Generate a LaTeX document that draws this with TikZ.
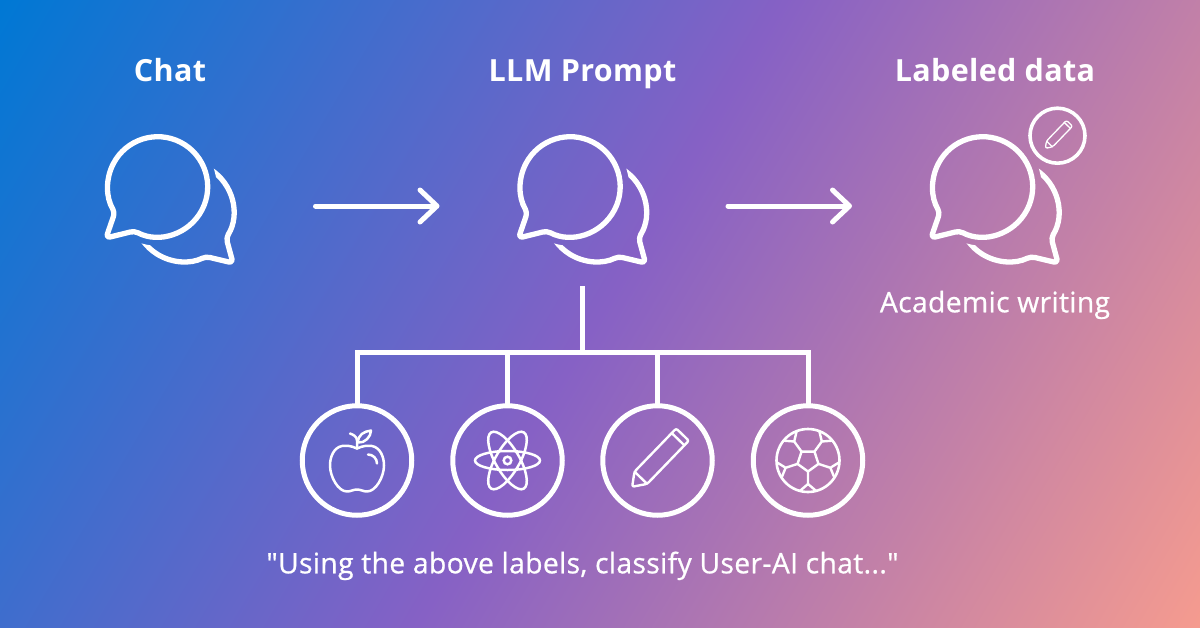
\documentclass[tikz,border=0pt]{standalone}
\usepackage{fontspec}
\setmainfont{Open Sans}[Ligatures=TeXOff]
\newfontfamily\headingfont{Open Sans}[Ligatures=TeXOff,LetterSpace=1.1]
\newfontfamily\captionfont{Open Sans}[Ligatures=TeXOff,LetterSpace=1.2,FakeBold=0.7]
\usetikzlibrary{arrows.meta}
\definecolor{bgblue}{HTML}{0078D4}
\definecolor{bgpurple}{HTML}{8661C5}
\definecolor{bgsalmon}{HTML}{F59B8F}
\pgfdeclarehorizontalshading{bgfade}{100bp}{color(0bp)=(bgblue); color(25bp)=(bgblue); color(50bp)=(bgpurple); color(75bp)=(bgsalmon); color(100bp)=(bgsalmon)}
\tikzset{
  heading/.style={text=white,anchor=base,font=\fontsize{30.5}{36}\headingfont\bfseries},
  caption/.style={text=white,anchor=base,font=\fontsize{28.3}{34}\captionfont},
  iconbox/.style={minimum width=130pt,minimum height=143pt,inner sep=0pt,outer sep=0pt},
  labelring/.style={circle,draw=white,line width=5pt,minimum size=109.5pt,inner sep=0pt,outer sep=0pt},
  badgering/.style={circle,draw=white,line width=3.6pt,minimum size=55pt,inner sep=0pt,outer sep=0pt},
  flow/.style={draw=white,line width=5pt,line cap=round,-{Straight Barb[length=17pt,width=32pt,round]}},
  tree/.style={draw=white,line width=5pt},
  pics/bubbles/.style={code={
    \begin{scope}[even odd rule]
      \clip (-200,-200) rectangle (200,200) (-12.3,-19.3) circle (59);
      \draw[white,line width=5.3pt,line join=round,rounded corners=4pt]
        (13.6,5.7)+(31.6:50) arc[start angle=31.6,end angle=-296.3,radius=50]
        -- (63,57) -- cycle;
    \end{scope}
    \draw[white,line width=5.3pt,line join=round,rounded corners=4pt]
      (-12.3,-19.3)+(117.7:50) arc[start angle=117.7,end angle=-211,radius=50]
      -- (-64,32) -- cycle;
  }},
  pics/pencil/.style={code={
    \draw[white,rounded corners=2pt,line join=round]
      (-36.5,0) -- (-24,-8.8) -- (36,-8.8) -- (36,8.8) -- (-24,8.8) -- cycle;
    \draw[white,line cap=round] (-24,-8.8) -- (-24,8.8) (29.6,-8.8) -- (29.6,8.8);
  }},
  pics/apple/.style={code={
    \draw[white,line width=2.5pt,line join=round]
      (0,-12) .. controls (6,-15) and (11,-15) .. (15,-14.5)
      .. controls (23,-13) and (27,-4) .. (27,5)
      .. controls (27,16) and (19,31) .. (10,31)
      .. controls (6,31) and (4,29) .. (0,29)
      .. controls (-4,29) and (-6,31) .. (-10,31)
      .. controls (-19,31) and (-27,16) .. (-27,5)
      .. controls (-27,-4) and (-23,-13) .. (-15,-14.5)
      .. controls (-11,-15) and (-6,-15) .. (0,-12) -- cycle;
    \draw[white,line width=2.5pt,line cap=round] (0,-12) -- (0,-20) .. controls (0,-24) and (-4,-26) .. (-7,-27);
    \draw[white,line width=2.5pt,line join=round] (1,-18) .. controls (1,-26) and (7,-29) .. (14,-30) .. controls (14,-24) and (8,-17) .. (1,-18) -- cycle;
    \draw[white,line width=2.5pt,line cap=round] (11,-6) .. controls (16,-6) and (20,-2) .. (20,3);
  }},
  pics/atom/.style={code={
    \draw[white,line width=2.5pt] (0,0) circle (3.8);
    \draw[white,line width=2.5pt] (0,0) ellipse (32.5 and 9.5);
    \foreach \tilt in {60,120}
      \draw[white,line width=2.5pt,rotate=\tilt] (0,0) ellipse (32.5 and 12);
  }},
  pics/ball/.style={code={
    \draw[white,line width=2.6pt] (0,0) circle (31.5);
    \draw[white,line width=2.4pt,line join=round]
      (90:11) -- (18:11) -- (-54:11) -- (-126:11) -- (162:11) -- cycle;
    \foreach \spoke in {90,18,-54,-126,162}
      \draw[white,line width=2.4pt,line join=round]
        (\spoke:11) -- (\spoke:23.5) -- (\spoke+15:31.5)
        (\spoke:23.5) -- (\spoke-15:31.5);
  }},
}
\begin{document}
\begin{tikzpicture}[x=1pt,y=-1pt]
      \path[use as bounding box] (0,0) rectangle (1200,627);
      \begin{scope}
        \clip (0,0) rectangle (1200,627);
        \shade[shading=bgfade,shading angle=-30.5] (-76,-362.5) rectangle (1276,989.5);
      \end{scope}
      % headings
      \node[heading] (chattitle) at (170,81) {Chat};
      \node[heading] (prompttitle) at (582.5,81) {LLM Prompt};
      \node[heading] (datatitle) at (995,81) {Labeled data};
      % speech bubbles
      \node[iconbox] (chat) at (170,206) {};
      \node[iconbox] (prompt) at (582.5,206) {};
      \node[iconbox] (data) at (995,206) {};
      \pic at (chat) {bubbles};
      \pic at (prompt) {bubbles};
      \pic at (data) {bubbles};
      % badge
      \node[badgering] (badge) at (1057.5,135.7) {};
      \pic[line width=1.3pt,scale=0.48,rotate=46] at (badge) {pencil};
      \node[caption] (academic) at (995,312.3) {Academic writing};
      % labels
      \node[labelring] (apple) at (357,460.5) {};
      \node[labelring] (atom) at (507.5,460.5) {};
      \node[labelring] (pen) at (657.5,460.5) {};
      \node[labelring] (ball) at (808,460.5) {};
      \pic at (apple) {apple};
      \pic at (atom) {atom};
      \pic[line width=2.4pt,rotate=46] at (pen) {pencil};
      \pic at (ball) {ball};
      \node[caption] (instruction) at (582.5,573.3) {"Using the above labels, classify User-AI chat..."};
      % connectors
      \coordinate (bar) at (582.5,352);
      \path[flow,shorten <=80.5pt,shorten >=78pt] (chat.east) -- (prompt.west);
      \path[flow,shorten <=80.5pt,shorten >=78pt] (prompt.east) -- (data.west);
      \path[tree,shorten <=8.5pt] (prompt.south) -- (bar);
      \path[tree] (bar) -| (apple.north);
      \path[tree] (bar) -| (atom.north);
      \path[tree] (bar) -| (pen.north);
      \path[tree] (bar) -| (ball.north);
\end{tikzpicture}
\end{document}
